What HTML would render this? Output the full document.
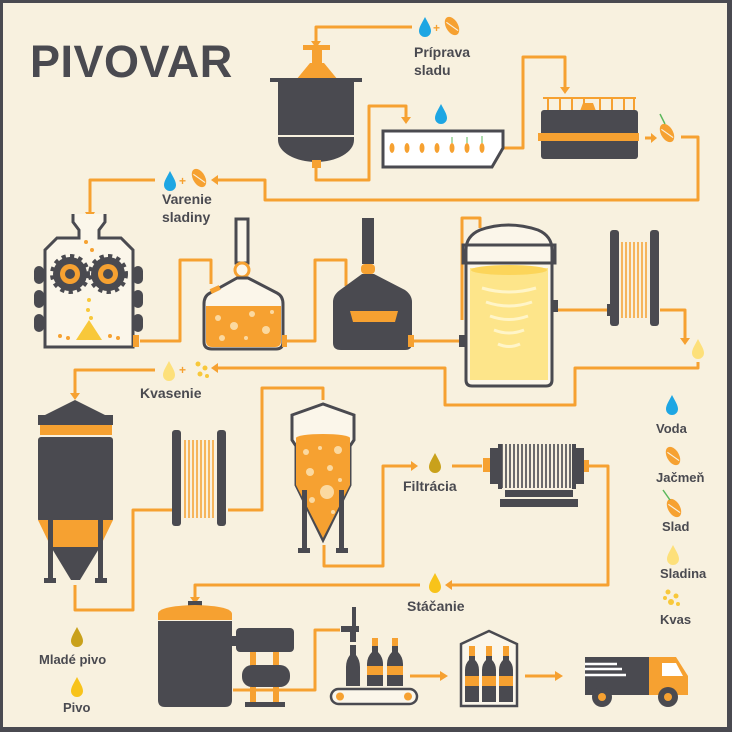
<!DOCTYPE html>
<html><head><meta charset="utf-8"><style>
html,body{margin:0;padding:0;background:#f8f1df}
svg{display:block}
text{font-family:"Liberation Sans",sans-serif;fill:#4a4a50;font-weight:bold}
</style></head><body>
<svg width="732" height="732" viewBox="0 0 732 732" xmlns="http://www.w3.org/2000/svg">
<defs>
<g id="drop"><path d="M0,-11 C3,-5 6,-1 6,3 A6,6 0 0 1 -6,3 C-6,-1 -3,-5 0,-11Z"/></g>
<g id="seed"><ellipse rx="6" ry="10" transform="rotate(-30)"/><path d="M-3,-6 L3,7" stroke="#f8f1df" stroke-width="1.2" transform="rotate(-30)"/></g>
</defs>
<rect x="0" y="0" width="732" height="732" fill="#4a4a50"/>
<rect x="3" y="3" width="724" height="724" fill="#f8f1df"/>

<text x="30" y="77" font-size="45" style="letter-spacing:0.5px">PIVOVAR</text>

<g fill="none" stroke="#f6a131" stroke-width="3" stroke-linejoin="round">
<path d="M412,27 H316 V42"/>
<path d="M316,168 V180 H369 V106 H406 V118"/>
<path d="M503,148 H523 V57 H565 V88"/>
<path d="M681,137 H698 V200 H265 V180 H218"/>
<path d="M155,180 H90 V214"/>
<path d="M140,341 H180 V260 H211 V284"/>
<path d="M285,341 H315 V260 H346 V286"/>
<path d="M412,341 H462"/>
<path d="M462,320 V218 H480 V228"/>
<path d="M555,310 H608"/>
<path d="M660,310 H685 V338"/>
<path d="M698,362 V368 H575 V405 H445 V368 H218"/>
<path d="M155,370 H75 V394"/>
<path d="M75,585 V610 H133 V510 H172"/>
<path d="M228,510 H262 V388 H323 V400"/>
<path d="M324,545 V566 H383 V466 H412"/>
<path d="M452,466 H482"/>
<path d="M586,466 H608 V585 H452"/>
<path d="M420,585 H195 V598"/>
<path d="M233,690 H315 V630 H340"/>
<path d="M410,676 H440"/>
<path d="M525,676 H555"/>
<path d="M645,138 H652"/>
</g>
<g fill="#f6a131">
<path d="M311,41 L321,41 L316,48Z"/>
<path d="M401,117 L411,117 L406,124Z"/>
<path d="M560,87 L570,87 L565,94Z"/>
<path d="M218,175 L218,185 L211,180Z"/>
<path d="M85,212 L95,212 L90,220Z"/>
<path d="M680,338 L690,338 L685,345Z"/>
<path d="M218,363 L218,373 L211,368Z"/>
<path d="M70,393 L80,393 L75,400Z"/>
<path d="M411,461 L411,471 L418,466Z"/>
<path d="M452,580 L452,590 L445,585Z"/>
<path d="M190,597 L200,597 L195,604Z"/>
<path d="M440,671 L440,681 L448,676Z"/>
<path d="M555,671 L555,681 L563,676Z"/>
<path d="M651,133 L651,143 L657,138Z"/>
</g>

<use href="#drop" x="425" y="28" fill="#1ea6e3"/>
<text x="433" y="32" font-size="12" style="fill:#f6a131">+</text>
<use href="#seed" x="452" y="26" fill="#f6a131"/>
<text x="414" y="57" font-size="14">Príprava</text>
<text x="414" y="75" font-size="14">sladu</text>
<use href="#drop" x="441" y="115" fill="#1ea6e3"/>

<rect x="303" y="45" width="27" height="5" fill="#f6a131"/>
<rect x="312" y="50" width="10" height="14" fill="#f6a131"/>
<path d="M310,63 H324 L338,80 H296Z" fill="#f6a131"/>
<rect x="270" y="78" width="92" height="4" fill="#4a4a50"/>
<path d="M278,82 H354 V135 H278Z" fill="#4a4a50"/>
<path d="M278,137 H354 V140 A38,22 0 0 1 278,140Z" fill="#4a4a50"/>
<rect x="312" y="160" width="9" height="8" fill="#f6a131"/>

<path d="M383,131 H503 V148 L492,167 H383Z" fill="#fff" stroke="#4a4a50" stroke-width="3"/>
<g fill="#f6a131"><ellipse cx="392" cy="148" rx="2.5" ry="5"/><ellipse cx="407" cy="148" rx="2.5" ry="5"/><ellipse cx="422" cy="148" rx="2.5" ry="5"/><ellipse cx="437" cy="148" rx="2.5" ry="5"/><ellipse cx="452" cy="148" rx="2.5" ry="5"/><ellipse cx="467" cy="148" rx="2.5" ry="5"/><ellipse cx="482" cy="148" rx="2.5" ry="5"/></g>
<g stroke="#5cb85c" stroke-width="1"><path d="M452,143 V137"/><path d="M467,143 V137"/><path d="M482,143 V136"/></g>

<g stroke="#f6a131" stroke-width="2"><path d="M543,98 H636"/><path d="M548,98 V110 M560,98 V110 M572,98 V110 M584,98 V110 M600,98 V110 M612,98 V110 M624,98 V110 M634,98 V110"/></g>
<path d="M583,103 H593 L596,111 H580Z" fill="#f6a131"/>
<rect x="541" y="110" width="97" height="49" rx="3" fill="#4a4a50"/>
<rect x="538" y="133" width="101" height="8" fill="#f6a131"/>
<use href="#seed" x="667" y="133" fill="#f6a131"/>
<path d="M665,124 L660,114" stroke="#5cb85c" stroke-width="1.5"/>

<use href="#drop" x="170" y="182" fill="#1ea6e3"/>
<text x="179" y="185" font-size="12" style="fill:#f6a131">+</text>
<use href="#seed" x="199" y="178" fill="#f6a131"/>
<text x="162" y="204" font-size="14">Varenie</text>
<text x="162" y="222" font-size="14">sladiny</text>

<path d="M73,214 V222 L79,230 V238 H57 L45,250 V347 H133 V250 L121,238 H99 V230 L105,222 V214" fill="#fbf6ea" stroke="#4a4a50" stroke-width="3"/>
<g fill="#4a4a50"><rect x="34" y="266" width="10" height="18" rx="5"/><rect x="34" y="290" width="10" height="18" rx="5"/><rect x="34" y="314" width="10" height="18" rx="5"/><rect x="133" y="266" width="10" height="18" rx="5"/><rect x="133" y="290" width="10" height="18" rx="5"/><rect x="133" y="314" width="10" height="18" rx="5"/></g>
<g>
<circle cx="70" cy="274" r="17" fill="#4a4a50" stroke="#4a4a50" stroke-width="6" stroke-dasharray="4 4"/>
<circle cx="70" cy="274" r="10" fill="#f6a131"/><circle cx="70" cy="274" r="5" fill="#4a4a50"/>
<circle cx="108" cy="274" r="17" fill="#4a4a50" stroke="#4a4a50" stroke-width="6" stroke-dasharray="4 4"/>
<circle cx="108" cy="274" r="10" fill="#f6a131"/><circle cx="108" cy="274" r="5" fill="#4a4a50"/>
</g>
<g fill="#f8c83a"><circle cx="89" cy="300" r="2"/><circle cx="88" cy="310" r="2"/><circle cx="91" cy="318" r="2"/><circle cx="89" cy="326" r="2"/><path d="M76,340 L89,320 L102,340Z"/></g>
<g fill="#f6a131"><circle cx="86" cy="242" r="2"/><circle cx="92" cy="250" r="2"/><circle cx="60" cy="336" r="2"/><circle cx="68" cy="338" r="2"/><circle cx="110" cy="336" r="2"/><circle cx="118" cy="338" r="2"/></g>
<rect x="133" y="335" width="6" height="12" fill="#f6a131"/>

<rect x="236" y="219" width="12" height="44" fill="#fbf6ea" stroke="#4a4a50" stroke-width="3"/>
<circle cx="242" cy="270" r="7" fill="#fbf6ea" stroke="#f6a131" stroke-width="3"/>
<path d="M237,278 L210,293 Q204,296 204,304 V342 Q204,349 212,349 H276 Q283,349 283,342 V304 Q283,296 277,293 L248,278Z" fill="#fbf6ea" stroke="#4a4a50" stroke-width="3"/>
<path d="M206,306 H281 V341 Q281,347 275,347 H212 Q206,347 206,341Z" fill="#f6a131"/>
<g fill="#fbd9a0"><circle cx="218" cy="318" r="3"/><circle cx="234" cy="326" r="4"/><circle cx="252" cy="314" r="3"/><circle cx="266" cy="330" r="4"/><circle cx="222" cy="338" r="3"/><circle cx="246" cy="338" r="2"/><circle cx="272" cy="312" r="2"/></g>
<rect x="210" y="287" width="10" height="5" fill="#f6a131" transform="rotate(-25 215 289)"/>
<rect x="282" y="335" width="5" height="12" fill="#f6a131"/>

<rect x="362" y="218" width="12" height="46" fill="#4a4a50"/>
<rect x="361" y="264" width="14" height="10" rx="4" fill="#f6a131"/>
<path d="M362,274 L340,290 Q333,295 333,302 V343 Q333,350 341,350 H405 Q412,350 412,343 V302 Q412,295 405,290 L374,274Z" fill="#4a4a50"/>
<path d="M350,311 H398 L395,322 H353Z" fill="#f6a131"/>
<rect x="408" y="335" width="6" height="12" fill="#f6a131"/>

<path d="M466,250 Q466,236 480,230 Q508,220 538,230 Q552,236 552,250 V380 Q552,386 546,386 H472 Q466,386 466,380Z" fill="#fbf6ea" stroke="#4a4a50" stroke-width="3"/>
<rect x="463" y="245" width="92" height="18" fill="none" stroke="#4a4a50" stroke-width="3"/>
<rect x="470" y="268" width="78" height="112" fill="#fde58a"/>
<ellipse cx="509" cy="270" rx="38" ry="5" fill="#fcd55a"/>
<g stroke="#fff5c8" stroke-width="3" fill="none"><path d="M482,288 Q509,296 536,288"/><path d="M486,302 Q509,310 532,302"/><path d="M490,316 Q509,323 528,316"/><path d="M494,330 Q509,336 524,330"/><path d="M498,344 Q509,349 520,344"/></g>
<rect x="459" y="335" width="6" height="12" fill="#4a4a50"/><rect x="553" y="300" width="5" height="12" fill="#4a4a50"/>

<rect x="610" y="230" width="9" height="96" rx="3" fill="#4a4a50"/>
<rect x="650" y="230" width="9" height="96" rx="3" fill="#4a4a50"/>
<g stroke="#f6a131" stroke-width="1.5"><path d="M622,242 V318 M626,242 V318 M630,242 V318 M634,242 V318 M638,242 V318 M642,242 V318 M646,242 V318"/></g>
<rect x="607" y="304" width="6" height="12" fill="#4a4a50"/>

<use href="#drop" x="698" y="350" fill="#fde07a"/>

<use href="#drop" x="169" y="372" fill="#fde07a"/>
<text x="179" y="374" font-size="12" style="fill:#f6a131">+</text>
<g fill="#f8c83a"><circle cx="198" cy="364" r="2.5"/><circle cx="205" cy="368" r="2.5"/><circle cx="200" cy="374" r="2.5"/><circle cx="207" cy="376" r="2"/></g>
<text x="140" y="398" font-size="14">Kvasenie</text>

<path d="M75,400 L45,415 H105Z" fill="#4a4a50"/>
<rect x="38" y="415" width="75" height="10" fill="#4a4a50"/>
<rect x="40" y="425" width="72" height="10" fill="#f6a131"/>
<rect x="38" y="437" width="75" height="85" rx="3" fill="#4a4a50"/>
<path d="M38,520 H113 L100,547 H51Z" fill="#f6a131"/>
<path d="M51,547 H100 L80,580 H71Z" fill="#4a4a50"/>
<g fill="#4a4a50"><rect x="48" y="520" width="5" height="62"/><rect x="98" y="520" width="5" height="62"/><rect x="44" y="578" width="12" height="5"/><rect x="95" y="578" width="12" height="5"/></g>

<rect x="172" y="430" width="9" height="96" rx="3" fill="#4a4a50"/>
<rect x="217" y="430" width="9" height="96" rx="3" fill="#4a4a50"/>
<g stroke="#f6a131" stroke-width="1.5"><path d="M185,440 V518 M189,440 V518 M193,440 V518 M197,440 V518 M201,440 V518 M205,440 V518 M209,440 V518 M213,440 V518"/></g>

<path d="M323,404 L292,415 V440 L296,446 V485 L323,540 L350,485 V446 L354,440 V415Z" fill="#fbf6ea" stroke="#4a4a50" stroke-width="3"/>
<path d="M296,438 H350 V485 L323,538 L296,485Z" fill="#f6a131"/>
<ellipse cx="323" cy="438" rx="27" ry="4" fill="#f6a131"/>
<g fill="#fbd9a0"><circle cx="306" cy="452" r="3"/><circle cx="320" cy="448" r="2"/><circle cx="338" cy="450" r="4"/><circle cx="330" cy="468" r="3"/><circle cx="310" cy="472" r="4"/><circle cx="327" cy="492" r="7"/><circle cx="340" cy="480" r="2"/><circle cx="312" cy="500" r="3"/><circle cx="333" cy="512" r="2"/></g>
<g fill="#4a4a50"><rect x="302" y="490" width="5" height="60"/><rect x="339" y="490" width="5" height="60"/><rect x="298" y="548" width="12" height="5"/><rect x="336" y="548" width="12" height="5"/></g>

<use href="#drop" x="435" y="464" fill="#c9a11b"/>
<text x="403" y="491" font-size="14">Filtrácia</text>
<rect x="483" y="458" width="8" height="14" fill="#f6a131"/>
<rect x="490" y="448" width="8" height="36" fill="#4a4a50"/>
<rect x="576" y="448" width="8" height="36" fill="#4a4a50"/>
<g stroke="#4a4a50" stroke-width="1.6"><path d="M502,444 V488 M506,444 V488 M510,444 V488 M514,444 V488 M518,444 V488 M522,444 V488 M526,444 V488 M530,444 V488 M534,444 V488 M538,444 V488 M542,444 V488 M546,444 V488 M550,444 V488 M554,444 V488 M558,444 V488 M562,444 V488 M566,444 V488 M570,444 V488"/></g>
<rect x="498" y="444" width="4" height="45" fill="#4a4a50"/><rect x="572" y="444" width="4" height="45" fill="#4a4a50"/>
<rect x="505" y="490" width="68" height="7" fill="#4a4a50"/>
<rect x="500" y="499" width="78" height="8" fill="#4a4a50"/>
<rect x="584" y="460" width="5" height="12" fill="#f6a131"/>

<use href="#drop" x="435" y="584" fill="#f8c31a"/>
<text x="407" y="611" font-size="14">Stáčanie</text>

<rect x="188" y="601" width="14" height="6" fill="#4a4a50"/>
<path d="M158,614 Q158,606 195,605 Q232,606 232,614 V620 H158Z" fill="#f6a131"/>
<path d="M158,621 H232 V700 Q232,707 225,707 H165 Q158,707 158,700Z" fill="#4a4a50"/>
<rect x="236" y="628" width="58" height="24" rx="4" fill="#4a4a50"/>
<rect x="230" y="636" width="8" height="10" fill="#4a4a50"/>
<rect x="250" y="652" width="6" height="14" fill="#f6a131"/><rect x="273" y="652" width="6" height="14" fill="#f6a131"/>
<rect x="242" y="665" width="48" height="22" rx="10" fill="#4a4a50"/>
<rect x="250" y="687" width="6" height="15" fill="#f6a131"/><rect x="273" y="687" width="6" height="15" fill="#f6a131"/>
<rect x="245" y="702" width="40" height="5" fill="#4a4a50"/>

<rect x="352" y="607" width="4" height="20" fill="#4a4a50"/>
<rect x="341" y="626" width="18" height="6" fill="#4a4a50"/>
<rect x="350" y="632" width="6" height="10" fill="#4a4a50"/>
<path d="M350,645 H356 V655 Q360,660 360,667 V686 H346 V667 Q346,660 350,655Z" fill="#4a4a50"/>
<g>
<path d="M372,638 H378 V652 Q383,657 383,664 V686 H367 V664 Q367,657 372,652Z" fill="#4a4a50"/>
<rect x="372" y="638" width="6" height="8" fill="#f6a131"/><rect x="367" y="666" width="16" height="9" fill="#f6a131"/>
<path d="M392,638 H398 V652 Q403,657 403,664 V686 H387 V664 Q387,657 392,652Z" fill="#4a4a50"/>
<rect x="392" y="638" width="6" height="8" fill="#f6a131"/><rect x="387" y="666" width="16" height="9" fill="#f6a131"/>
</g>
<rect x="331" y="689" width="86" height="15" rx="7.5" fill="#fbf6ea" stroke="#4a4a50" stroke-width="2.5"/>
<circle cx="340" cy="696.5" r="4" fill="#f6a131"/><circle cx="408" cy="696.5" r="4" fill="#f6a131"/>

<path d="M461,644 L489,631 L517,644 V706 H461Z" fill="#fbf6ea" stroke="#4a4a50" stroke-width="2.5"/>
<g>
<path d="M469,646 H475 V660 Q479,664 479,670 V702 H465 V670 Q465,664 469,660Z" fill="#4a4a50"/>
<rect x="469" y="646" width="6" height="10" fill="#f6a131"/><rect x="465" y="676" width="14" height="10" fill="#f6a131"/>
<path d="M486,646 H492 V660 Q496,664 496,670 V702 H482 V670 Q482,664 486,660Z" fill="#4a4a50"/>
<rect x="486" y="646" width="6" height="10" fill="#f6a131"/><rect x="482" y="676" width="14" height="10" fill="#f6a131"/>
<path d="M503,646 H509 V660 Q513,664 513,670 V702 H499 V670 Q499,664 503,660Z" fill="#4a4a50"/>
<rect x="503" y="646" width="6" height="10" fill="#f6a131"/><rect x="499" y="676" width="14" height="10" fill="#f6a131"/>
</g>

<rect x="585" y="657" width="64" height="38" fill="#4a4a50"/>
<g stroke="#fff" stroke-width="2.5"><path d="M585,664 H617 M585,669 H622 M585,675 H626"/></g>
<path d="M649,657 H676 L688,676 V695 H649Z" fill="#f6a131"/>
<path d="M662,663 H676 L683,676 H662Z" fill="#fff"/>
<circle cx="602" cy="697" r="10" fill="#4a4a50"/><circle cx="602" cy="697" r="4" fill="#f6a131"/>
<circle cx="668" cy="697" r="10" fill="#4a4a50"/><circle cx="668" cy="697" r="4" fill="#f6a131"/>

<use href="#drop" x="672" y="406" fill="#1ea6e3"/>
<text x="656" y="433" font-size="13">Voda</text>
<use href="#seed" x="673" y="456" fill="#f6a131"/>
<text x="656" y="482" font-size="13">Jačmeň</text>
<use href="#seed" x="674" y="508" fill="#f6a131"/>
<path d="M670,500 L663,490" stroke="#5cb85c" stroke-width="1.5"/>
<text x="662" y="531" font-size="13">Slad</text>
<use href="#drop" x="673" y="556" fill="#fde07a"/>
<text x="660" y="578" font-size="13">Sladina</text>
<g fill="#f8c83a"><circle cx="668" cy="592" r="2.5"/><circle cx="676" cy="596" r="2.5"/><circle cx="671" cy="602" r="3"/><circle cx="678" cy="604" r="2"/><circle cx="665" cy="598" r="2"/></g>
<text x="660" y="624" font-size="13">Kvas</text>

<use href="#drop" x="77" y="638" fill="#c9a11b"/>
<text x="39" y="664" font-size="13">Mladé pivo</text>
<use href="#drop" x="77" y="688" fill="#f8c31a"/>
<text x="63" y="712" font-size="13">Pivo</text>
</svg>
</body></html>
